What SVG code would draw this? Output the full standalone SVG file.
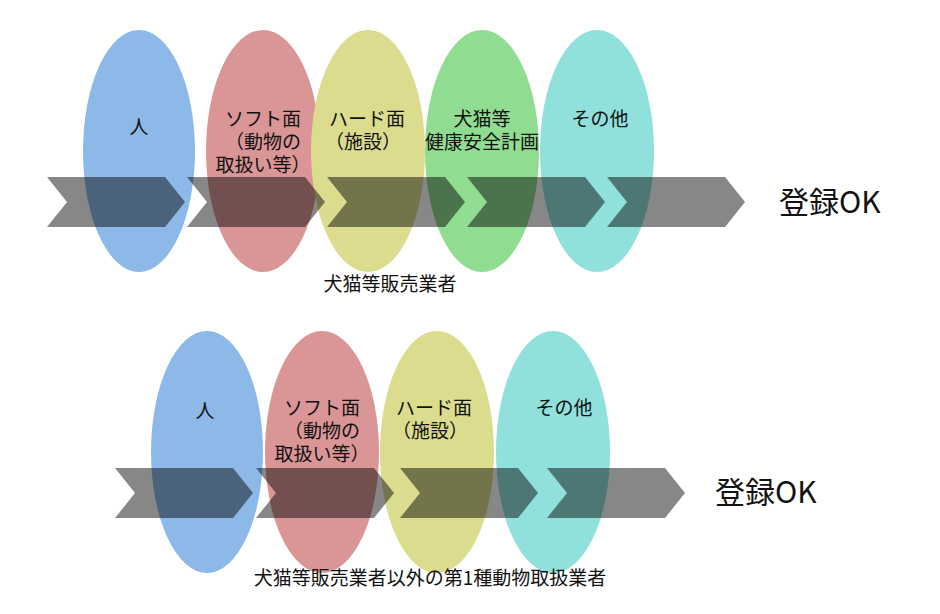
<svg xmlns="http://www.w3.org/2000/svg" width="940" height="614" viewBox="0 0 940 614">
<style>
text{font-family:"Noto Sans CJK JP","Noto Sans",sans-serif;fill:#111;text-anchor:middle}
.l{font-size:19px}
.c{font-size:19px}
.ok{font-size:30px;text-anchor:start}
.ch{fill:#000;fill-opacity:0.47}
</style>
<defs><path id="chev" d="M0,0 H118 L138,25 L118,50 H0 L20,25 Z"/></defs>
<rect width="940" height="614" fill="#fff"/>
<g id="row1-ellipses">
<ellipse id="e-hito" cx="139" cy="151" rx="56" ry="121" fill="#8DB9E8"/>
<ellipse id="e-soft" cx="263" cy="151" rx="57" ry="121" fill="#DA9596"/>
<ellipse id="e-hard" cx="368" cy="151" rx="57" ry="121" fill="#DCDC8E"/>
<ellipse id="e-plan" cx="482" cy="151" rx="57" ry="121" fill="#90DC90"/>
<ellipse id="e-other" cx="597" cy="151" rx="57" ry="121" fill="#90E0DC"/>
</g>
<g id="connectors">
<use href="#chev" x="47" y="177" class="ch"/>
<use href="#chev" x="187" y="177" class="ch"/>
<use href="#chev" x="327" y="177" class="ch"/>
<use href="#chev" x="467" y="177" class="ch"/>
<use href="#chev" x="607" y="177" class="ch"/>
</g>
<g id="row1-labels">
<text class="l" x="139" y="134">人</text>
<text class="l" x="263" y="126">ソフト面</text>
<text class="l" x="263" y="149">（動物の</text>
<text class="l" x="263" y="172">取扱い等）</text>
<text class="l" x="367" y="126">ハード面</text>
<text class="l" x="363" y="149">（施設）</text>
<text class="l" x="482" y="126">犬猫等</text>
<text class="l" x="482" y="149">健康安全計画</text>
<text class="l" x="600" y="126">その他</text>
<text class="ok" x="779" y="213">登録OK</text>
<text class="c" x="390" y="291">犬猫等販売業者</text>
</g>
<g id="row2-ellipses">
<ellipse id="e2-hito" cx="207" cy="452" rx="56" ry="121" fill="#8DB9E8"/>
<ellipse id="e2-soft" cx="322" cy="452" rx="57" ry="121" fill="#DA9596"/>
<ellipse id="e2-hard" cx="437" cy="452" rx="57" ry="121" fill="#DCDC8E"/>
<ellipse id="e2-other" cx="553" cy="452" rx="57" ry="121" fill="#90E0DC"/>
</g>
<g id="connectors2">
<use href="#chev" x="115" y="468" class="ch"/>
<use href="#chev" x="256" y="468" class="ch"/>
<use href="#chev" x="400" y="468" class="ch"/>
<use href="#chev" x="547" y="468" class="ch"/>
</g>
<g id="row2-labels">
<text class="l" x="205" y="418">人</text>
<text class="l" x="322" y="415">ソフト面</text>
<text class="l" x="322" y="438">（動物の</text>
<text class="l" x="322" y="461">取扱い等）</text>
<text class="l" x="434" y="415">ハード面</text>
<text class="l" x="430" y="438">（施設）</text>
<text class="l" x="564" y="415">その他</text>
<text class="ok" x="715" y="503">登録OK</text>
<text class="c" x="430" y="585">犬猫等販売業者以外の第1種動物取扱業者</text>
</g>
</svg>
